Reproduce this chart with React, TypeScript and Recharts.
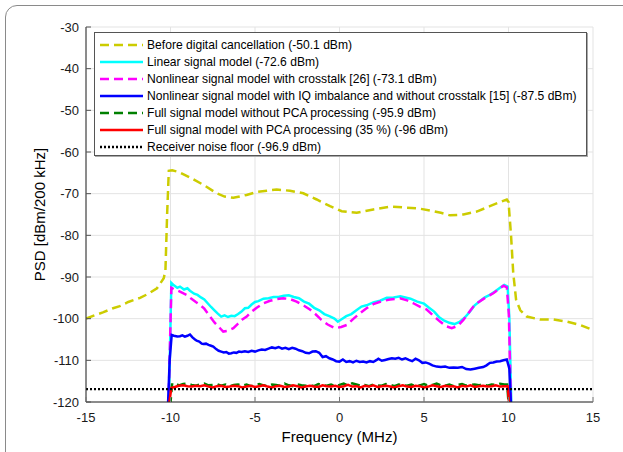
import { LineChart, Line, XAxis, YAxis, CartesianGrid, Legend } from "recharts";

// frequency ticks (MHz) and PSD ticks (dBm/200 kHz)
const freqTicks = [-15, -10, -5, 0, 5, 10, 15];
const psdTicks = [-120, -110, -100, -90, -80, -70, -60, -50, -40, -30];

// before digital cancellation
const beforeF = [-15, -14.5, -14, -13.4, -13, -12.5, -11.8, -11.3, -10.8, -10.4, -10.3, -10.2, -10.1, -9.9, -9.5, -8.85, -8, -7.27, -6.8, -6.28, -5.5, -4.9, -4.3, -3.72, -2.93, -2.14, -1.35, -0.56, 0.13, 0.5, 1.02, 2, 2.99, 3.78, 4.76, 5.55, 6, 6.54, 7.33, 8.12, 8.9, 9.5, 9.9, 10, 10.15, 10.28, 10.45, 10.7, 11.08, 11.86, 12.65, 13.44, 14.23, 15];
const beforeV = [-100, -99.2, -98.5, -97.5, -97, -96, -95, -94, -92.7, -90.3, -88.5, -75, -64.5, -64.4, -64.8, -66.1, -68, -69.9, -70.7, -71, -70.3, -69.6, -69.3, -69, -69.3, -69.9, -71.4, -73, -74.2, -74.4, -74.6, -73.8, -73.1, -73.3, -73.6, -74.2, -74.6, -75.2, -75, -74.3, -73, -72, -71.4, -72, -80, -89, -95.5, -98, -99.5, -100.2, -100.2, -100.7, -101.5, -102.7];

// linear signal model
const linearF = [-10.1, -9.95, -9.8, -9.6, -9.44, -9.2, -9, -8.85, -8.6, -8.4, -8.2, -8, -7.8, -7.6, -7.4, -7.2, -7, -6.8, -6.6, -6.4, -6.2, -6, -5.8, -5.6, -5.4, -5.2, -5, -4.8, -4.5, -4.2, -3.9, -3.6, -3.3, -3, -2.7, -2.4, -2.1, -1.8, -1.5, -1.2, -0.9, -0.6, -0.3, -0.1, 0.1, 0.4, 0.7, 1, 1.3, 1.6, 2, 2.4, 2.8, 3.2, 3.6, 3.9, 4.2, 4.6, 5, 5.3, 5.6, 5.9, 6.2, 6.5, 6.8, 7.1, 7.4, 7.7, 8, 8.3, 8.6, 8.9, 9.2, 9.5, 9.75, 9.95, 10.05, 10.17];
const linearV = [-121, -91.4, -92, -92.6, -92.3, -93, -92.7, -93.3, -94, -94.3, -94.9, -95.4, -96.3, -97.2, -98, -98.8, -99.5, -99.2, -99.6, -99.3, -99.4, -98.9, -98.3, -97.5, -97.4, -96.6, -96, -95.8, -95.2, -95.1, -94.8, -94.8, -94.5, -94.4, -94.8, -95.1, -95.9, -96.4, -97.4, -98, -98.9, -99.4, -100, -100.7, -100.2, -99.4, -98.9, -98, -97.1, -96.8, -96.1, -95.7, -95, -94.9, -94.6, -94.9, -95.2, -95.9, -96.4, -97.4, -98.3, -99.7, -100.5, -101, -101.3, -100.8, -99.8, -98.4, -96.8, -95.8, -94.9, -94.3, -93.5, -92.6, -91.9, -92.3, -100, -121];

// nonlinear signal model with crosstalk
const crosstalkF = [-10.12, -9.95, -9.8, -9.5, -9.2, -9.04, -8.8, -8.5, -8.25, -8, -7.66, -7.4, -7.07, -6.88, -6.6, -6.28, -6, -5.75, -5.49, -5.2, -4.9, -4.5, -4.11, -3.7, -3.33, -2.93, -2.54, -2.1, -1.75, -1.4, -1.07, -0.7, -0.27, 0.1, 0.43, 0.8, 1.21, 1.6, 2, 2.5, 2.99, 3.58, 4, 4.37, 4.8, 5.16, 5.5, 5.95, 6.3, 6.64, 7, 7.33, 7.6, 7.92, 8.2, 8.5, 8.8, 9.1, 9.4, 9.7, 9.9, 10.02, 10.15];
const crosstalkV = [-121, -92.6, -92.9, -93.4, -94, -94.3, -95.1, -96, -96.7, -97.6, -99.5, -100.9, -102.3, -103.1, -102.9, -102.3, -101.2, -100.2, -99.5, -98.3, -97.4, -96.3, -95.7, -95.3, -95.1, -95.3, -95.9, -96.9, -97.8, -99, -100.3, -101.4, -102.3, -102, -101.5, -100.1, -98.7, -97.5, -96.5, -95.8, -95.4, -95.1, -95.6, -96.3, -97.2, -97.8, -99.1, -100.7, -101.8, -102.3, -101.7, -100.3, -98.8, -97.1, -96.1, -95.3, -94.6, -93.9, -93, -92.1, -92.5, -99, -121];

// nonlinear signal model with IQ imbalance, no crosstalk
const iqF = [-10.15, -10.05, -9.93, -9.8, -9.6, -9.44, -9.3, -9.15, -9, -8.85, -8.7, -8.55, -8.45, -8.3, -8.15, -8.06, -7.9, -7.75, -7.6, -7.47, -7.3, -7.15, -7, -6.85, -6.7, -6.55, -6.4, -6.25, -6.1, -5.95, -5.8, -5.6, -5.4, -5.2, -5, -4.8, -4.6, -4.4, -4.2, -4, -3.8, -3.6, -3.4, -3.2, -3, -2.8, -2.6, -2.4, -2.2, -2, -1.8, -1.6, -1.4, -1.2, -1, -0.8, -0.6, -0.4, -0.2, 0, 0.2, 0.4, 0.6, 0.8, 1, 1.2, 1.4, 1.6, 1.8, 2, 2.2, 2.3, 2.5, 2.7, 2.9, 3.1, 3.3, 3.5, 3.7, 3.9, 4.1, 4.3, 4.5, 4.7, 4.9, 5.1, 5.3, 5.5, 5.75, 6, 6.25, 6.5, 6.75, 7, 7.25, 7.5, 7.75, 8, 8.25, 8.5, 8.7, 8.9, 9.1, 9.3, 9.5, 9.7, 9.9, 10.05, 10.15];
const iqV = [-121, -110, -103.9, -104.1, -104.3, -104.2, -104, -104.3, -104.1, -103.8, -104.5, -105, -105.3, -105.5, -106, -106.1, -106, -106.3, -106.5, -106.7, -107.3, -107.7, -107.9, -108.1, -108, -108.4, -108.3, -108.1, -108.2, -107.9, -108, -107.8, -108, -107.7, -107.9, -107.6, -107.4, -107.5, -107.2, -106.9, -107.1, -106.8, -107.2, -107, -107.3, -107, -107.2, -107.6, -107.8, -108.2, -108.3, -107.9, -107.8, -108.2, -109.2, -109, -109.5, -109.8, -110.2, -110.3, -109.8, -110.4, -110.2, -110.5, -110.1, -110.4, -110.3, -110.5, -110.2, -110.4, -109.9, -109.6, -110.1, -109.9, -109.7, -109.5, -109.6, -109.4, -109.8, -109.5, -109.9, -110.2, -109.6, -110, -110.6, -110.5, -110.8, -111.2, -111.5, -111.6, -111.5, -111.8, -111.7, -111.8, -111.6, -112.1, -112.2, -112, -111.8, -111.6, -111.2, -110.6, -110.5, -110.3, -110.2, -110, -109.8, -112, -121];

// shared in-band grid for the full signal models
const fullF = [
  -9.75, -9.5, -9.25, -9, -8.75, -8.5, -8.25, -8,
  -7.75, -7.5, -7.25, -7, -6.75, -6.5, -6.25, -6,
  -5.75, -5.5, -5.25, -5, -4.75, -4.5, -4.25, -4,
  -3.75, -3.5, -3.25, -3, -2.75, -2.5, -2.25, -2,
  -1.75, -1.5, -1.25, -1, -0.75, -0.5, -0.25, 0,
  0.25, 0.5, 0.75, 1, 1.25, 1.5, 1.75, 2,
  2.25, 2.5, 2.75, 3, 3.25, 3.5, 3.75, 4,
  4.25, 4.5, 4.75, 5, 5.25, 5.5, 5.75, 6,
  6.25, 6.5, 6.75, 7, 7.25, 7.5, 7.75, 8,
  8.25, 8.5, 8.75, 9, 9.25, 9.5, 9.75,
];
// full signal model without PCA
const noPcaV = [
  -115.5, -116, -115.7, -115.6, -115.9, -116.1, -115.8, -115.6,
  -116, -115.9, -115.7, -116.1, -115.8, -116.2, -115.9, -115.8,
  -116.1, -115.8, -116.2, -115.9, -115.7, -116, -116.2, -115.8,
  -115.9, -116.1, -115.6, -116, -116.2, -115.8, -116, -116.1,
  -115.9, -116.2, -115.7, -116, -116.1, -115.8, -116.2, -115.9,
  -115.6, -116, -115.5, -115.8, -116.1, -115.9, -116.2, -115.8,
  -116, -116.1, -115.7, -115.9, -116.2, -115.8, -116, -116.1,
  -115.8, -116.2, -116, -115.7, -116.1, -115.9, -115.6, -116,
  -116.1, -115.8, -116.2, -115.9, -115.7, -116.1, -115.9, -115.8,
  -116, -115.7, -116.1, -115.8, -115.9, -115.6, -115.8,
];
// full signal model with PCA (35 %)
const pcaV = [
  -116.4, -116.1, -116, -116.2, -116.3, -116.1, -116.2, -116,
  -116.3, -116.5, -116.2, -116.1, -116.4, -116.3, -116.1, -116.2,
  -116.5, -116.3, -116.1, -116.4, -116.2, -116, -116.3, -116.5,
  -116.2, -116.1, -116.4, -116.3, -116, -116.2, -116.5, -116.3,
  -116.1, -116.3, -116.4, -116, -116.2, -116.3, -116.1, -116.4,
  -116.2, -115.9, -116.3, -116.2, -116.5, -116.1, -116.3, -116,
  -116.4, -116.2, -116.1, -116.3, -116.5, -116.2, -116, -116.3,
  -116.4, -116.1, -116.2, -116.5, -116.3, -116, -116.2, -116.4,
  -116.1, -116.3, -116.2, -116.5, -116.1, -116.3, -116, -116.4,
  -116.2, -116.1, -116.3, -116.2, -116, -116.3, -116.2,
];
// band edges of the two full models
const noPcaStart = [[-10.02, -121], [-9.9, -115.5]];
const noPcaEnd = [[9.92, -115.8], [10.02, -121]];
const pcaStart = [[-10.1, -121], [-9.95, -116.6]];
const pcaEnd = [[9.95, -116.2], [10.05, -121]];

// receiver noise floor
const floorF = [-15, 15];
const floorV = [-116.9, -116.9];

const pairs = (f: number[], v: number[]) => f.map((x, i) => ({ f: x, v: v[i] }));
const edge = (p: number[][]) => p.map(([f, v]) => ({ f, v }));

const SERIES = [
  { name: "Before digital cancellation (-50.1 dBm)", color: "#cccc00", dash: "9 5", data: pairs(beforeF, beforeV) },
  { name: "Linear signal model (-72.6 dBm)", color: "#00ffff", dash: undefined, data: pairs(linearF, linearV) },
  { name: "Nonlinear signal model with crosstalk [26] (-73.1 dBm)", color: "#ff00ff", dash: "9 5", data: pairs(crosstalkF, crosstalkV) },
  { name: "Nonlinear signal model with IQ imbalance and without crosstalk [15] (-87.5 dBm)", color: "#0000ff", dash: undefined, data: pairs(iqF, iqV) },
  { name: "Full signal model without PCA processing (-95.9 dBm)", color: "#008000", dash: "9 5", data: [...edge(noPcaStart), ...pairs(fullF, noPcaV), ...edge(noPcaEnd)] },
  { name: "Full signal model with PCA processing (35 %) (-96 dBm)", color: "#ff0000", dash: undefined, data: [...edge(pcaStart), ...pairs(fullF, pcaV), ...edge(pcaEnd)] },
  { name: "Receiver noise floor (-96.9 dBm)", color: "#000000", dash: "2 2", data: pairs(floorF, floorV) },
];

const FONT = "'Liberation Sans', Arial, Helvetica, sans-serif";

const XTick = (props: any) => {
  const { x, y, payload } = props;
  return (
    <g>
      <line x1={x} x2={x} y1={y - 9} y2={y - 14} stroke="#777" />
      <text x={x} y={y} dy={11} textAnchor="middle" fontSize={13} fontFamily={FONT} fill="#1a1a1a">
        {payload.value}
      </text>
    </g>
  );
};

const YTick = (props: any) => {
  const { x, y, payload } = props;
  return (
    <g>
      <line x1={x + 7} x2={x + 12} y1={y} y2={y} stroke="#555" />
      <text x={x} y={y} dy={4.5} textAnchor="end" fontSize={13} fontFamily={FONT} fill="#1a1a1a">
        {payload.value}
      </text>
    </g>
  );
};

const LegendBox = () => (
  <div
    style={{
      width: 493,
      boxSizing: "border-box",
      border: "1px solid #555",
      boxShadow: "1px 1px 0 #aaa",
      background: "#fff",
      padding: "3px 5px 0 5px",
      fontFamily: FONT,
      fontSize: 12.1,
      color: "#000",
    }}
  >
    {SERIES.map((s) => (
      <div key={s.name} style={{ display: "flex", alignItems: "center", height: 17, whiteSpace: "nowrap" }}>
        <svg width={43} height={8} style={{ flex: "none" }}>
          <line x1={0} x2={43} y1={4} y2={4} stroke={s.color} strokeWidth={2.5} strokeDasharray={s.dash} />
        </svg>
        <span style={{ marginLeft: 4 }}>{s.name}</span>
      </div>
    ))}
  </div>
);

export default function App() {
  return (
    <div style={{ position: "absolute", left: 0, top: 0, width: 623, height: 452, overflow: "hidden", background: "#fff" }}>
      <div
        style={{
          position: "absolute",
          left: 5,
          top: 5,
          width: 700,
          height: 500,
          border: "1.5px solid #8a8a8a",
          borderRadius: 12,
        }}
      />
      <LineChart width={623} height={452} margin={{ top: 27, right: 30, bottom: 5, left: 26 }}>
        <CartesianGrid stroke="#e3e3e3" strokeWidth={1} />
        <XAxis
          type="number"
          dataKey="f"
          domain={[-15, 15]}
          ticks={freqTicks}
          allowDataOverflow
          height={45}
          tickSize={0}
          tickMargin={9}
          tickLine={false}
          tick={<XTick />}
          axisLine={{ stroke: "#262626" }}
          label={{ value: "Frequency (MHz)", position: "insideBottom", offset: 5, fontSize: 15, fontFamily: FONT, fill: "#000" }}
        />
        <YAxis
          type="number"
          domain={[-120, -30]}
          ticks={psdTicks}
          allowDataOverflow
          width={60}
          tickSize={0}
          tickMargin={7}
          tickLine={false}
          tick={<YTick />}
          axisLine={{ stroke: "#262626" }}
          label={{
            value: "PSD [dBm/200 kHz]",
            angle: -90,
            position: "insideLeft",
            offset: 14,
            fontSize: 15,
            fontFamily: FONT,
            fill: "#000",
            style: { textAnchor: "middle" },
          }}
        />
        <Legend
          layout="vertical"
          align="center"
          verticalAlign="middle"
          content={<LegendBox />}
          wrapperStyle={{ left: 94, top: 32, width: 493 }}
        />
        {SERIES.map((s) => (
          <Line
            key={s.name}
            name={s.name}
            data={s.data}
            dataKey="v"
            type="linear"
            stroke={s.color}
            strokeWidth={s.dash === "2 2" ? 2.2 : 2.5}
            strokeDasharray={s.dash}
            dot={false}
            activeDot={false}
            isAnimationActive={false}
          />
        ))}
      </LineChart>
    </div>
  );
}
